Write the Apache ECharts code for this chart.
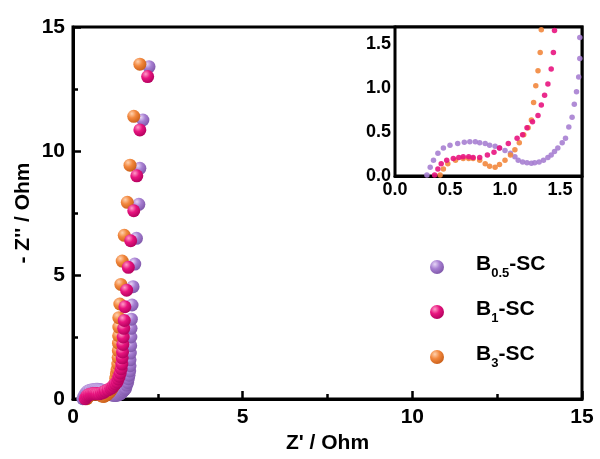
<!DOCTYPE html>
<html>
<head>
<meta charset="utf-8">
<script src="https://cdn.jsdelivr.net/npm/echarts@6/dist/echarts.min.js"></script>
<style>
  html, body { margin: 0; padding: 0; background: #fff; }
  #chart { width: 600px; height: 459px; }
</style>
</head>
<body>
<div id="chart"></div>
<script>
// 数据
const seriesNames = ['B0.5-SC', 'B1-SC', 'B3-SC']
const b05X = [0.29, 0.32, 0.35, 0.39, 0.44, 0.50, 0.57, 0.63, 0.68, 0.73, 0.77, 0.82, 0.86, 0.91, 0.95, 1.00, 1.05, 1.09, 1.12, 1.16, 1.20, 1.24, 1.27, 1.31, 1.35, 1.39, 1.42, 1.45, 1.48, 1.52, 1.55, 1.58, 1.61, 1.63, 1.65, 1.67, 1.68, 1.68, 1.69, 1.70, 1.705, 1.71, 1.72, 1.74, 1.77, 1.82, 1.87, 1.94, 1.97, 2.06, 2.24]
const b05Y = [0.01, 0.10, 0.18, 0.26, 0.32, 0.35, 0.37, 0.385, 0.39, 0.39, 0.38, 0.37, 0.35, 0.34, 0.32, 0.29, 0.26, 0.22, 0.18, 0.16, 0.15, 0.145, 0.15, 0.16, 0.18, 0.21, 0.24, 0.28, 0.32, 0.38, 0.43, 0.56, 0.67, 0.82, 0.96, 1.13, 1.34, 1.58, 1.85, 2.15, 2.5, 2.85, 3.22, 3.79, 4.53, 5.44, 6.48, 7.85, 9.3, 11.25, 13.4]
const b1X = [0.36, 0.39, 0.42, 0.47, 0.53, 0.58, 0.62, 0.67, 0.71, 0.77, 0.84, 0.90, 0.95, 1.03, 1.11, 1.16, 1.20, 1.25, 1.30, 1.33, 1.36, 1.39, 1.42, 1.44, 1.45, 1.46, 1.47, 1.48, 1.495, 1.51, 1.53, 1.58, 1.63, 1.70, 1.79, 1.88, 1.97, 2.20]
const b1Y = [0.01, 0.08, 0.14, 0.18, 0.20, 0.21, 0.22, 0.22, 0.21, 0.21, 0.24, 0.27, 0.32, 0.37, 0.43, 0.47, 0.55, 0.62, 0.69, 0.81, 0.92, 1.05, 1.22, 1.41, 1.66, 1.9, 2.2, 2.5, 2.85, 3.17, 3.72, 4.39, 5.31, 6.38, 7.59, 9.0, 10.85, 13.0]
const b3X = [0.41, 0.44, 0.48, 0.55, 0.62, 0.67, 0.71, 0.77, 0.82, 0.86, 0.91, 0.95, 1.00, 1.05, 1.09, 1.13, 1.17, 1.21, 1.24, 1.26, 1.28, 1.30, 1.32, 1.33, 1.335, 1.34, 1.345, 1.35, 1.35, 1.38, 1.41, 1.45, 1.51, 1.60, 1.68, 1.79, 1.97]
const b3Y = [0.01, 0.08, 0.14, 0.18, 0.20, 0.20, 0.20, 0.18, 0.14, 0.11, 0.10, 0.13, 0.18, 0.24, 0.30, 0.38, 0.47, 0.55, 0.64, 0.84, 1.03, 1.20, 1.41, 1.67, 1.95, 2.25, 2.55, 2.9, 3.28, 3.83, 4.62, 5.56, 6.6, 7.93, 9.43, 11.4, 13.5]
const colors = ['#a77fd2', '#e8147f', '#f2873d']
const lighter = ['#e6d6f6', '#ff9cc8', '#ffd1ae']
const darker = ['#7e56a8', '#b0005c', '#c85e18']

const zip = (xs, ys) => xs.map((x, i) => [x, ys[i]])
const dataList = [zip(b05X, b05Y), zip(b1X, b1Y), zip(b3X, b3Y)]

const ball = i => new echarts.graphic.RadialGradient(0.35, 0.3, 0.75, [
    { offset: 0, color: lighter[i] },
    { offset: 0.45, color: colors[i] },
    { offset: 1, color: darker[i] }
])

const font = 'Liberation Sans, Arial, sans-serif'
const axisLine = { show: true, lineStyle: { color: '#000', width: 3 } }

const chart = echarts.init(document.getElementById('chart'))

const series = []
// 主图
dataList.forEach((d, i) => {
    series.push({
        name: seriesNames[i],
        type: 'scatter',
        xAxisIndex: 0,
        yAxisIndex: 0,
        data: d,
        symbolSize: 13,
        z: i === 1 ? 4 : (i === 2 ? 3 : 2),
        itemStyle: { color: ball(i), opacity: 1 }
    })
})
// 插图
dataList.forEach((d, i) => {
    series.push({
        name: seriesNames[i],
        type: 'scatter',
        xAxisIndex: 1,
        yAxisIndex: 1,
        data: d,
        symbolSize: 5.5,
        clip: true,
        z: i === 1 ? 4 : (i === 2 ? 3 : 2),
        itemStyle: { color: colors[i], opacity: 0.9 }
    })
})

const subName = { 'B0.5-SC': '0.5', 'B1-SC': '1', 'B3-SC': '3' }

const option = {
    animation: false,
    backgroundColor: '#fff',
    grid: [
        { left: 73, right: 18, top: 27, bottom: 60, show: true, borderColor: '#000', borderWidth: 3 },
        { left: 395, right: 18, top: 27, bottom: 283, show: true, borderColor: '#000', borderWidth: 3, backgroundColor: '#fff', z: 1 }
    ],
    legend: {
        orient: 'vertical',
        left: 425,
        top: 246,
        itemWidth: 14,
        itemHeight: 14,
        itemGap: 16,
        data: seriesNames.map((n, i) => ({ name: n, icon: 'circle', itemStyle: { color: ball(i) } })),
        formatter: n => '{b|B}{s|' + subName[n] + '}{b|-SC}',
        textStyle: {
            padding: [0, 0, 0, 27],
            rich: {
                b: { fontFamily: font, fontWeight: 'bold', fontSize: 21, color: '#000', lineHeight: 26, verticalAlign: 'top' },
                s: { fontFamily: font, fontWeight: 'bold', fontSize: 13, color: '#000', lineHeight: 26, verticalAlign: 'bottom', padding: [16, 0, 0, 0] }
            }
        }
    },
    xAxis: [
        {
            gridIndex: 0, type: 'value', min: 0, max: 15, interval: 5,
            name: "Z' / Ohm", nameLocation: 'middle', nameGap: 34,
            nameTextStyle: { fontFamily: font, fontWeight: 'bold', fontSize: 21, color: '#000' },
            axisLine,
            axisTick: { inside: true, length: 8, lineStyle: { width: 2.5, color: '#000' } },
            minorTick: { show: true, splitNumber: 2, length: 5, lineStyle: { width: 2.5, color: '#000' } },
            axisLabel: { fontFamily: font, fontWeight: 'bold', fontSize: 21, color: '#000', margin: 8 },
            splitLine: { show: false }
        },
        {
            gridIndex: 1, type: 'value', min: 0, max: 1.7, interval: 0.5,
            axisLine,
            axisTick: { inside: true, length: 6, lineStyle: { width: 2, color: '#000' } },
            minorTick: { show: true, splitNumber: 2, length: 4, lineStyle: { width: 2, color: '#000' } },
            axisLabel: { fontFamily: font, fontWeight: 'bold', fontSize: 18, color: '#000', margin: 5, formatter: v => v.toFixed(1), showMaxLabel: false },
            splitLine: { show: false }
        }
    ],
    yAxis: [
        {
            gridIndex: 0, type: 'value', min: 0, max: 15, interval: 5,
            name: "- Z'' / Ohm", nameLocation: 'middle', nameGap: 39, nameRotate: 90,
            nameMoveOverlap: false,
            nameTextStyle: { fontFamily: font, fontWeight: 'bold', fontSize: 21, color: '#000' },
            axisLine,
            axisTick: { inside: true, length: 8, lineStyle: { width: 2.5, color: '#000' } },
            minorTick: { show: true, splitNumber: 2, length: 5, lineStyle: { width: 2.5, color: '#000' } },
            axisLabel: { fontFamily: font, fontWeight: 'bold', fontSize: 21, color: '#000', margin: 8 },
            splitLine: { show: false }
        },
        {
            gridIndex: 1, type: 'value', min: 0, max: 1.7, interval: 0.5,
            axisLine,
            axisTick: { inside: true, length: 6, lineStyle: { width: 2, color: '#000' } },
            minorTick: { show: true, splitNumber: 2, length: 4, lineStyle: { width: 2, color: '#000' } },
            axisLabel: { fontFamily: font, fontWeight: 'bold', fontSize: 18, color: '#000', margin: 4, formatter: v => v.toFixed(1), showMaxLabel: false },
            splitLine: { show: false }
        }
    ],
    series
}
chart.setOption(option)
</script>
</body>
</html>
